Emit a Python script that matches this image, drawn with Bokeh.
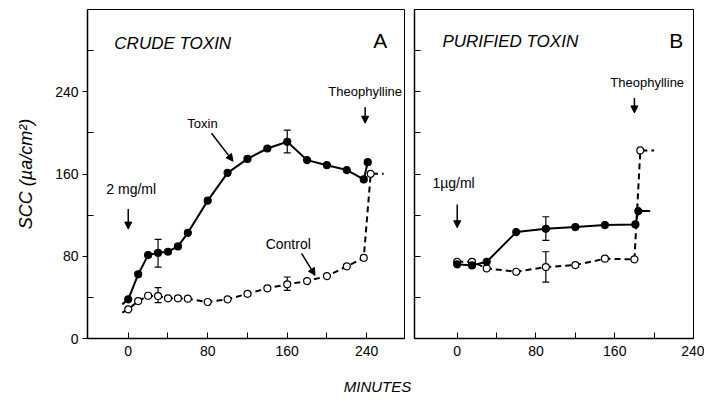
from bokeh.plotting import figure
from bokeh.layouts import row, column
from bokeh.models import (Range1d, FixedTicker, Label, Arrow, NormalHead,
                          Whisker, TeeHead, ColumnDataSource)
from bokeh.embed import file_html
from bokeh.resources import INLINE
from bokeh.core.properties import value

FONT = "Liberation Sans"

# ---------------- Panel A: crude toxin ----------------
a_toxin_t = [-6, 0, 10, 20, 30, 40, 50, 60, 80, 100, 120, 140, 160, 180, 200, 220, 237, 241]
a_toxin_y = [33.2, 38.1, 62.4, 81.1, 83.4, 84.4, 89.6, 102.8, 134.1, 161.1, 174.7, 184.8,
             191.3, 173.5, 168.6, 163.8, 154.7, 171.5]
a_control_t = [-6, 0, 10, 20, 30, 40, 50, 60, 80, 100, 120, 140, 160, 180, 200, 220, 237, 244, 257]
a_control_y = [25.1, 28.4, 36.4, 41.6, 41.3, 39.1, 39.1, 38.7, 35.5, 38.1, 43.5, 48.8, 52.7,
               55.9, 60.7, 70.2, 78.5, 160.2, 160.2]
a_toxin_err_t = [30, 160]
a_toxin_err_lo = [69.5, 180.6]
a_toxin_err_hi = [96.4, 202.6]
a_control_err_t = [30, 160]
a_control_err_lo = [34.8, 46.8]
a_control_err_hi = [49.4, 59.8]

# ---------------- Panel B: purified toxin ----------------
b_toxin_t = [0, 15, 30, 60, 90, 120, 150, 181, 184, 196]
b_toxin_y = [72.1, 71.1, 74.6, 103.5, 106.7, 108.4, 110.3, 111.0, 123.9, 123.9]
b_control_t = [0, 15, 30, 60, 90, 120, 150, 180, 186, 200]
b_control_y = [74.6, 74.6, 68.2, 64.9, 69.5, 71.4, 77.6, 77.0, 182.9, 182.9]
b_toxin_err_t = [90]
b_toxin_err_lo = [95.4]
b_toxin_err_hi = [118.4]
b_control_err_t = [90]
b_control_err_lo = [54.9]
b_control_err_hi = [84.4]

x_major = [0, 80, 160, 240]
x_minor = [40, 120, 200]
y_major = [0, 80, 160, 240]
y_minor = [40, 120, 200, 280]
b_y_ticks = [40, 80, 120, 160, 200, 240, 280]


def base_fig(width, xr, bl, br):
    p = figure(width=width, height=364, x_range=Range1d(*xr), y_range=Range1d(0, 320),
               output_backend="svg", toolbar_location=None,
               min_border_left=bl, min_border_right=br, min_border_top=9, min_border_bottom=26)
    p.grid.visible = False
    p.outline_line_color = "black"
    p.outline_line_width = 1
    p.background_fill_color = "white"
    p.border_fill_color = "white"
    xa = p.xaxis[0]
    xa.ticker = FixedTicker(ticks=x_major, minor_ticks=x_minor)
    xa.major_tick_in = 6
    xa.major_tick_out = 0
    xa.minor_tick_in = 6
    xa.minor_tick_out = 0
    xa.major_label_standoff = 7
    xa.axis_line_width = 1.5
    xa.major_label_text_font = FONT
    xa.major_label_text_font_size = "14px"
    xa.major_label_text_color = "black"
    return p


def add_series(p, tt, ty, t_mark, y_mark, filled, dashed):
    kw = dict(line_color="black", line_width=2)
    if dashed:
        kw["line_dash"] = "6 4"
    p.line(tt, ty, **kw)
    p.scatter(t_mark, y_mark, marker="circle", size=7,
              fill_color="black" if filled else "white", line_color="black", line_width=1.2)


def add_err(p, t, lo, hi):
    src = ColumnDataSource(dict(t=t, lo=lo, hi=hi))
    w = Whisker(source=src, base="t", lower="lo", upper="hi", line_color="black", line_width=1.2,
                lower_head=TeeHead(size=7, line_color="black", line_width=1.2),
                upper_head=TeeHead(size=7, line_color="black", line_width=1.2),
                level="underlay")
    p.add_layout(w)


def add_text(p, x, y, text, size, align="center", style="normal"):
    p.add_layout(Label(x=x, y=y, text=text, text_font=FONT, text_font_size=size,
                       text_align=align, text_baseline="middle", text_font_style=style,
                       text_color="black"))


def add_arrow(p, x0, y0, x1, y1):
    p.add_layout(Arrow(end=NormalHead(size=7, fill_color="black", line_color="black"),
                       x_start=x0, y_start=y0, x_end=x1, y_end=y1,
                       line_color="black", line_width=1.5))


# ---- Panel A figure ----
pA = base_fig(409, (-41, 278), 87, 5)
ya = pA.yaxis[0]
ya.ticker = FixedTicker(ticks=y_major, minor_ticks=y_minor)
ya.major_tick_in = 0
ya.major_tick_out = 5
ya.minor_tick_in = 6
ya.minor_tick_out = 0
ya.major_label_standoff = 4
ya.axis_line_width = 1.5
ya.major_label_text_font = FONT
ya.major_label_text_font_size = "14px"
ya.major_label_text_color = "black"
ya.axis_label = "SCC (µa/cm²)"
ya.axis_label_text_font = FONT
ya.axis_label_text_font_size = "18px"
ya.axis_label_text_font_style = "italic"
ya.axis_label_text_color = "black"
ya.axis_label_standoff = 16

add_err(pA, a_toxin_err_t, a_toxin_err_lo, a_toxin_err_hi)
add_err(pA, a_control_err_t, a_control_err_lo, a_control_err_hi)
add_series(pA, a_control_t, a_control_y, a_control_t[1:-1], a_control_y[1:-1], False, True)
add_series(pA, a_toxin_t, a_toxin_y, a_toxin_t[1:], a_toxin_y[1:], True, False)

add_text(pA, -14, 287, "CRUDE TOXIN", "17px", align="left", style="italic")
add_text(pA, 253.5, 290, "A", "21px")
add_text(pA, 238.4, 240.5, "Theophylline", "13px")
add_arrow(pA, 238.4, 225, 238.4, 209.4)
add_text(pA, 3, 145.3, "2 mg/ml", "14px")
add_arrow(pA, 0, 126, 0, 106.4)
add_text(pA, 74.7, 209.4, "Toxin", "13px")
add_arrow(pA, 83.8, 199.7, 105.4, 172.5)
add_text(pA, 161, 91.5, "Control", "14px")
add_arrow(pA, 174.4, 82.8, 188, 61.4)

# ---- Panel B figure ----
pB = base_fig(295, (-43.4, 240), 5, 11)
yb = pB.yaxis[0]
yb.ticker = FixedTicker(ticks=b_y_ticks)
yb.major_tick_in = 6
yb.major_tick_out = 0
yb.minor_tick_in = 0
yb.minor_tick_out = 0
yb.major_label_standoff = 0
yb.major_label_overrides = {t: "" for t in b_y_ticks}
yb.axis_line_width = 1.5

add_err(pB, b_toxin_err_t, b_toxin_err_lo, b_toxin_err_hi)
add_err(pB, b_control_err_t, b_control_err_lo, b_control_err_hi)
add_series(pB, b_control_t, b_control_y, b_control_t[:-1], b_control_y[:-1], False, True)
add_series(pB, b_toxin_t, b_toxin_y, b_toxin_t[:-1], b_toxin_y[:-1], True, False)

add_text(pB, -15, 288.5, "PURIFIED TOXIN", "17px", align="left", style="italic")
add_text(pB, 222.6, 290, "B", "21px")
add_text(pB, 193, 248.6, "Theophylline", "13px")
add_arrow(pB, 180, 234, 180, 219.4)
add_text(pB, -3.7, 151, "1µg/ml", "14px")
add_arrow(pB, 0, 130.4, 0, 107.7)

# ---- shared x label ----
pM = figure(width=704, height=34, x_range=Range1d(0, 704), y_range=Range1d(0, 34),
            x_axis_type=None, y_axis_type=None, output_backend="svg", toolbar_location=None,
            min_border=0)
pM.grid.visible = False
pM.outline_line_color = None
pM.text(x=[377], y=[12], text=["MINUTES"], text_font=value(FONT), text_font_size="15px",
        text_font_style="italic", text_align="center", text_baseline="middle", text_color="black")

layout = column(row(pA, pB, spacing=0), pM, spacing=0)
open("out.html", "w").write(file_html(layout, INLINE))
